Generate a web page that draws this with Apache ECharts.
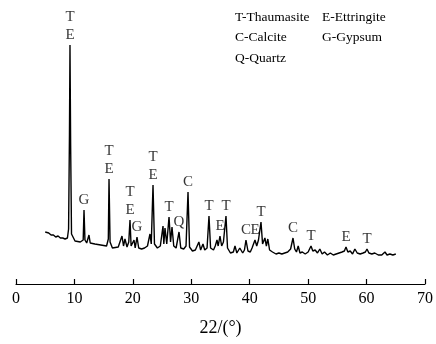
<!DOCTYPE html>
<html lang="en">
<head>
<meta charset="UTF-8">
<title>XRD</title>
<script src="https://cdn.jsdelivr.net/npm/echarts@6/dist/echarts.min.js"></script>
</head>
<body style="margin:0">
<div id="main" style="width:436px;height:344px;"></div>
<script>
// 2θ (deg) and intensity (arbitrary units)
var angle = [5.0,5.3,5.6,6.0,6.4,6.8,7.2,7.6,8.0,8.4,8.8,9.0,9.15,9.24,9.35,9.5,10.1,11.0,11.5,11.64,11.8,12.1,12.49,12.7,13.5,14.5,15.5,15.8,15.92,16.1,16.5,17.5,18.14,18.4,18.65,19.0,19.3,19.51,19.7,20.2,20.4,20.71,21.0,21.5,22.0,22.5,22.93,23.15,23.45,23.7,24.2,24.7,25.16,25.3,25.5,25.8,26.19,26.45,26.7,27.0,27.4,27.9,28.2,28.7,29.1,29.44,29.7,30.2,30.7,31.3,31.6,32.0,32.3,32.7,33.03,33.3,33.8,34.1,34.4,34.6,34.91,35.2,35.5,35.94,36.2,36.7,37.2,37.48,37.8,38.3,38.8,39.1,39.36,39.7,40.1,40.4,40.9,41.2,41.5,41.93,42.2,42.6,42.85,43.1,43.4,43.9,44.5,45.0,45.5,46.0,46.5,47.0,47.41,47.7,48.0,48.3,48.6,49.0,49.5,50.0,50.49,50.8,51.2,51.6,52.0,52.4,52.8,53.3,53.8,54.3,54.8,55.3,55.8,56.2,56.48,56.8,57.2,57.6,58.0,58.4,58.9,59.4,59.8,60.07,60.4,60.9,61.4,62.0,62.6,63.15,63.5,64.0,64.5,65.0];
var intensity = [52,50,51,49,49,47,48,46,46,45,46,55,150,239,140,50,43,42,44,74,44,41,49,41,40,39,38,45,105,42,36,37,48,38,45,37,42,64,38,44,36,47,36,35,36,38,50,40,99,40,36,38,58,40,56,40,67,42,57,38,36,52,36,35,38,92,37,33,34,42,34,40,34,36,68,36,34,38,44,38,48,38,42,68,36,31,32,38,31,36,31,34,44,33,32,36,44,38,44,62,40,46,38,45,34,32,30,31,30,31,32,35,46,35,32,38,31,32,30,32,38,33,34,31,35,30,32,29,31,29,30,31,32,33,37,32,33,30,35,31,30,31,32,35,31,30,31,29,29,32,29,30,29,30];

// phase labels: peak angle, peak intensity, text
var peakAngle = [9.24,11.64,15.92,19.51,20.71,23.45,26.19,27.9,29.44,33.03,34.91,35.94,39.36,40.9,41.93,47.41,50.49,56.48,60.07];
var peakTop = [239,74,105,64,47,99,67,52,92,68,48,68,44,44,62,46,38,37,35];
var peakText = ['T\nE','G','T\nE','T\nE','G','T\nE','T','Q','C','T','E','T','C','E','T','C','T','E','T'];

var xTicks = [0,10,20,30,40,50,60,70];

var legendRows = [
    ['T-Thaumasite', 'E-Ettringite'],
    ['C-Calcite', 'G-Gypsum'],
    ['Q-Quartz', '']
];

var serif = '"Liberation Serif", "Times New Roman", serif';

var line = [];
for (var i = 0; i < angle.length; i++) line.push([angle[i], intensity[i]]);

var marks = [];
for (var j = 0; j < peakAngle.length; j++) {
    marks.push({value: [peakAngle[j], peakTop[j]], name: peakText[j]});
}

var texts = [];
for (var r = 0; r < legendRows.length; r++) {
    for (var c = 0; c < 2; c++) {
        if (!legendRows[r][c]) continue;
        texts.push({
            type: 'text', left: c === 0 ? 235 : 322, top: 10 + r * 20.5,
            style: {text: legendRows[r][c], font: '13.5px ' + serif, fill: '#000'}
        });
    }
}

var myChart = echarts.init(document.getElementById('main'));
myChart.setOption({
    animation: false,
    grid: {left: 16, right: 11, top: 0, bottom: 60},
    xAxis: {
        type: 'value', min: 0, max: 70, interval: 10,
        name: '22/(°)', nameLocation: 'middle', nameGap: 35,
        nameTextStyle: {fontFamily: serif, fontSize: 18, color: '#000'},
        axisLine: {lineStyle: {color: '#000', width: 1.2}},
        axisTick: {inside: true, length: 5, lineStyle: {color: '#000', width: 1.2}},
        axisLabel: {
            fontFamily: serif, fontSize: 16, color: '#000', margin: 7,
            formatter: function (v) { return xTicks.indexOf(v) >= 0 ? v : ''; }
        },
        splitLine: {show: false}
    },
    yAxis: {type: 'value', min: 0, max: 284, show: false},
    series: [
        {
            type: 'line', data: line, symbol: 'none',
            lineStyle: {color: '#000', width: 1.4}
        },
        {
            type: 'scatter', data: marks, symbolSize: 0, silent: true,
            label: {
                show: true, position: 'top', distance: 1,
                formatter: function (p) { return p.name; },
                fontFamily: serif, fontSize: 15, lineHeight: 18, color: '#000'
            }
        }
    ],
    graphic: texts
});
</script>
</body>
</html>
